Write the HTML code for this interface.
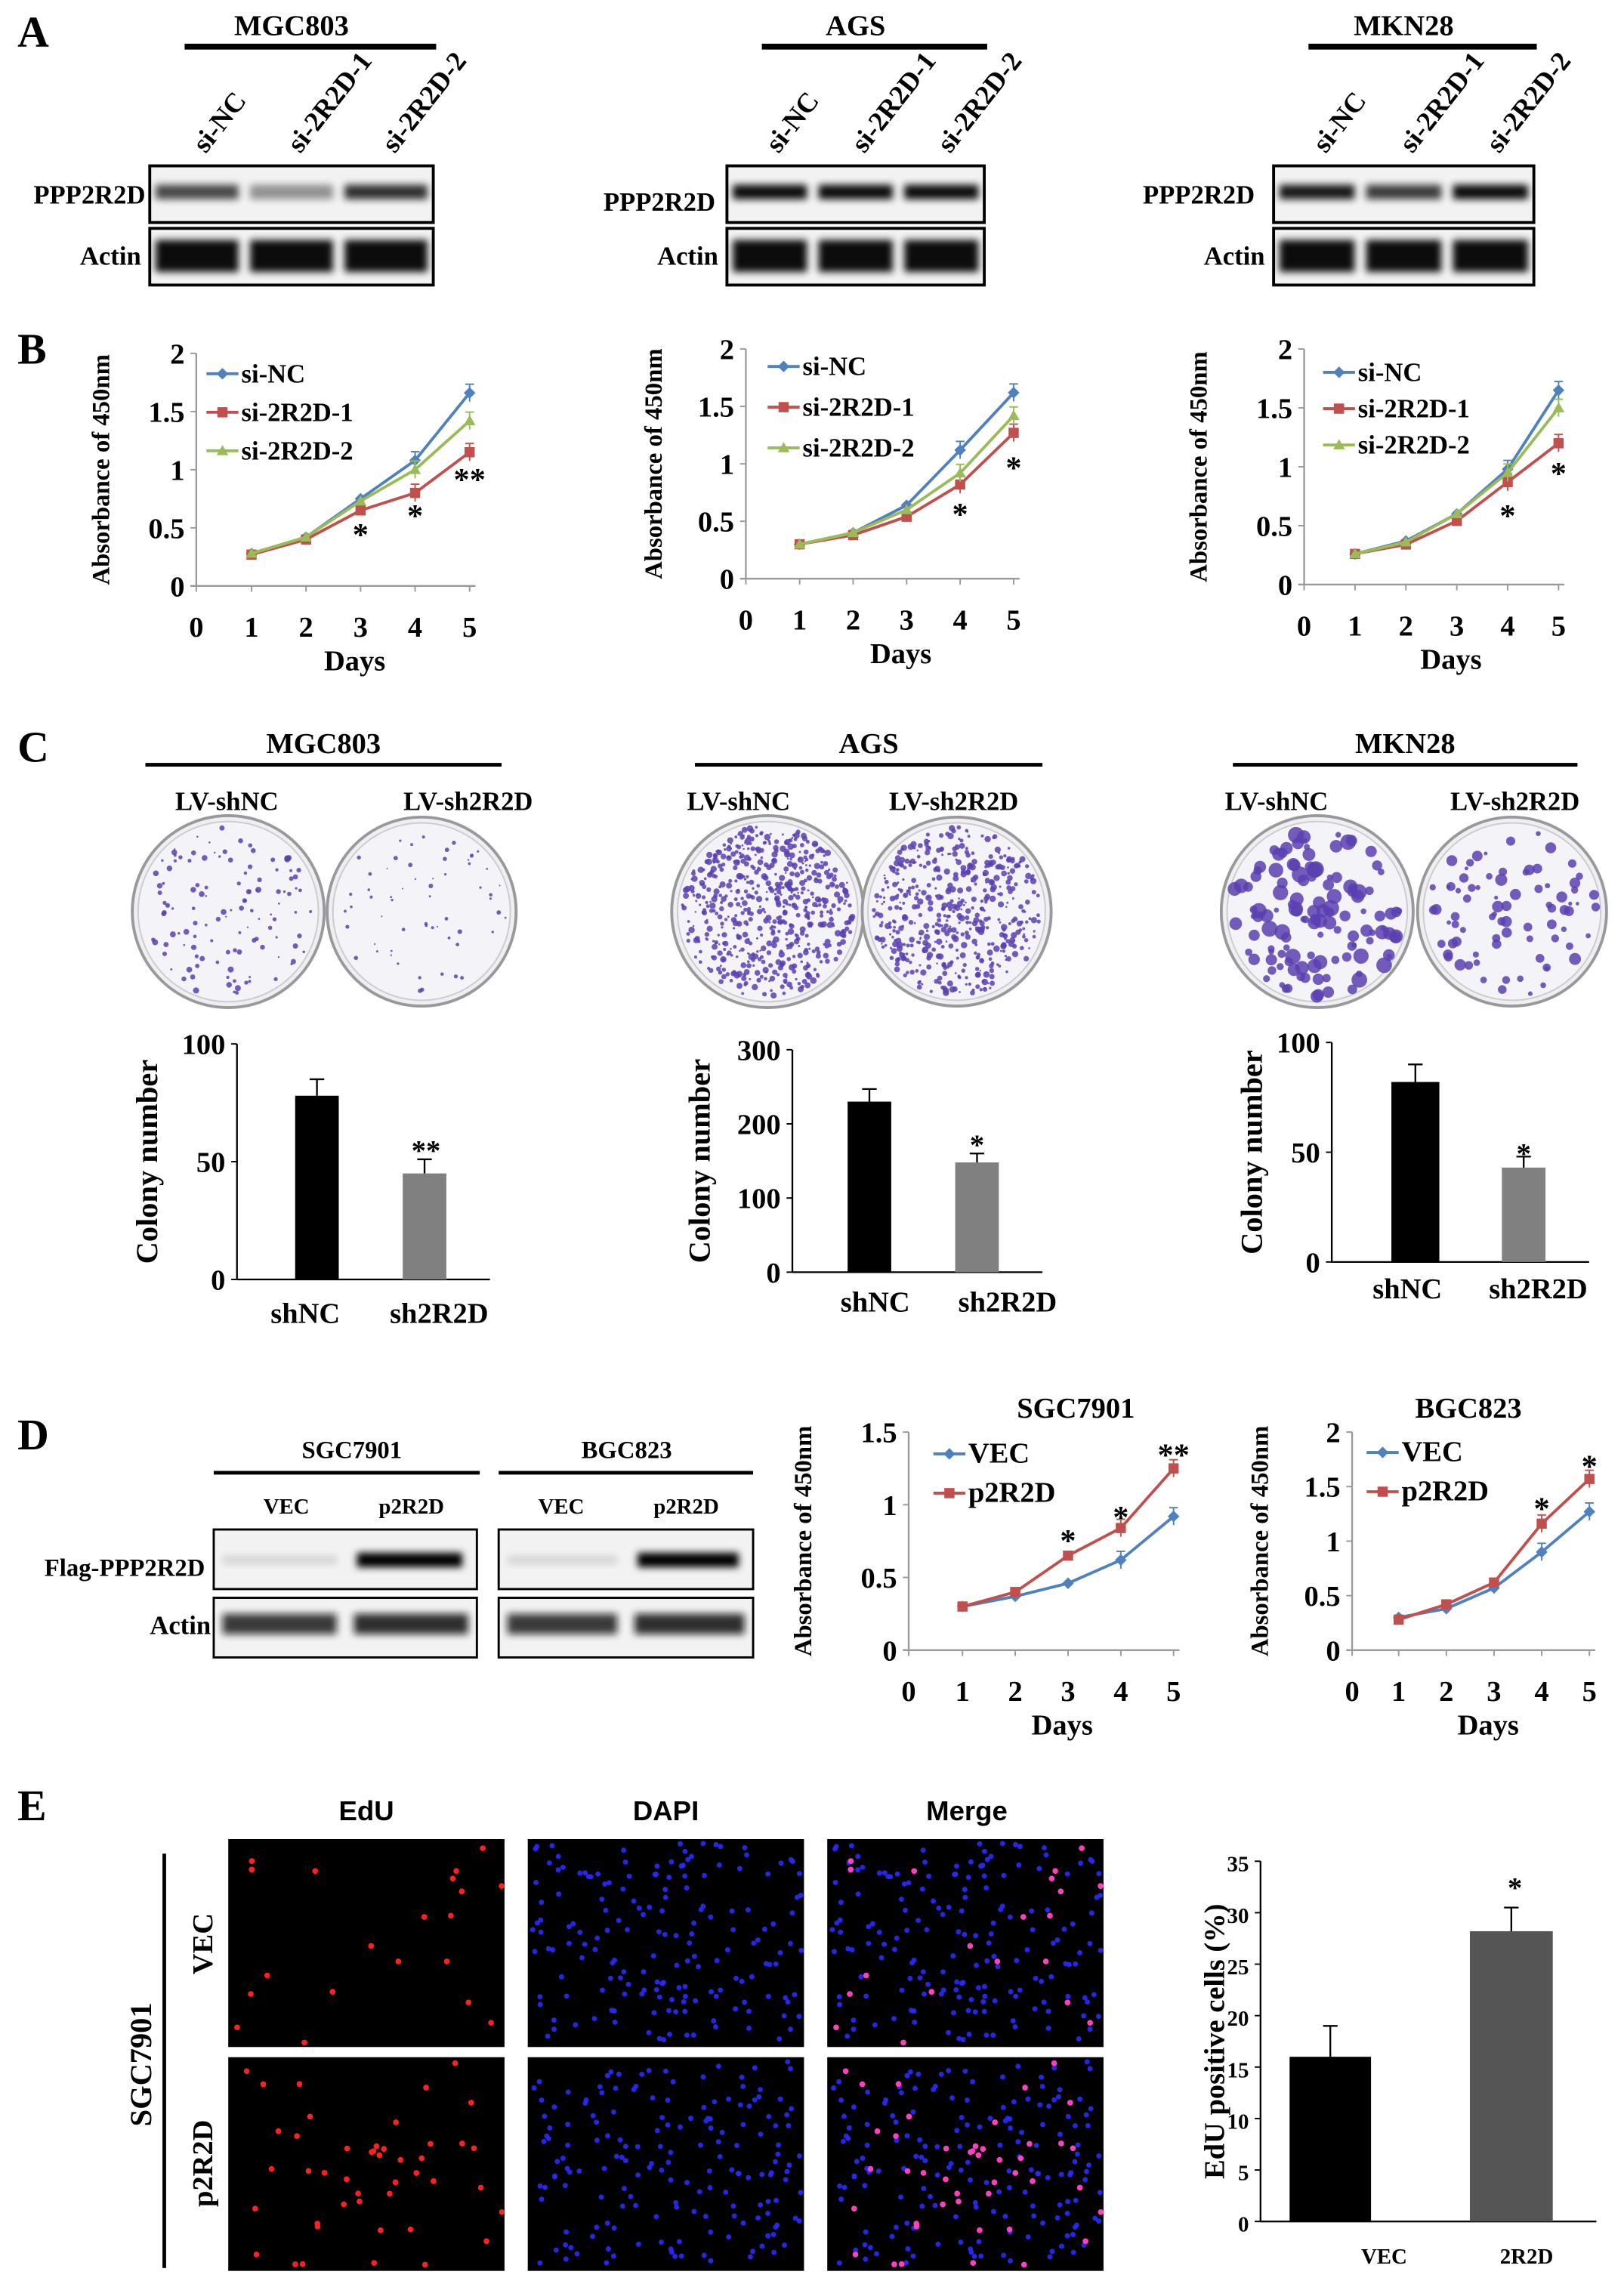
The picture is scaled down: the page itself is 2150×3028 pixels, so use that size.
<!DOCTYPE html>
<html><head><meta charset="utf-8"><style>
html,body{margin:0;padding:0;background:#fff}
svg{display:block}
text{font-family:"Liberation Serif",serif;font-weight:bold;fill:#000}
.s{font-family:"Liberation Sans",sans-serif}
</style></head><body>
<svg id="S" width="2150" height="3028" viewBox="0 0 1117 1573" xmlns="http://www.w3.org/2000/svg">
<defs>
<filter id="bl" x="-20%" y="-50%" width="140%" height="200%"><feGaussianBlur stdDeviation="2.5"/></filter>
</defs>
<g id="G"></g>
</svg>
<script>
var G=document.getElementById('G'),NS='http://www.w3.org/2000/svg';
function el(t,a,txt){var e=document.createElementNS(NS,t);for(var k in a)e.setAttribute(k,a[k]);if(txt!=null)e.textContent=txt;G.appendChild(e);return e;}
function T(x,y,s,size,anchor,extra){var a={x:x,y:y,'font-size':size||16,'text-anchor':anchor||'start'};for(var k in extra)a[k]=extra[k];return el('text',a,s);}
function L(x1,y1,x2,y2,w,c){return el('line',{x1:x1,y1:y1,x2:x2,y2:y2,stroke:c||'#000','stroke-width':w||1});}
var seed=7;function R(){seed=(seed*16807)%2147483647;return seed/2147483647;}

T(12,32,'A',30);T(12,250,'B',30);T(12,524,'C',30);T(12,997,'D',30);T(12,1252,'E',30);

function blotA(x0,x1,title,lab1x,lab1y,act,ints){
 var cx=(x0+x1)/2;T(cx,24,title,20,'middle');L(x0+24,32,x1+2,32,4);
 var w=(x1-x0)/3,labs=['si-NC','si-2R2D-1','si-2R2D-2'];
 for(var i=0;i<3;i++){var lx=x0+w*i+w/2+6,ly=106;T(lx,ly,labs[i],19,'start',{transform:'rotate(-52 '+lx+' '+ly+')'});}
 el('rect',{x:x0,y:114,width:x1-x0,height:39,fill:'#f2f2f2',stroke:'#000','stroke-width':2});
 el('rect',{x:x0,y:157,width:x1-x0,height:39,fill:'#f2f2f2',stroke:'#000','stroke-width':2});
 for(i=0;i<3;i++){var bx=x0+w*i+4;
  el('rect',{x:bx,y:127,width:w-8,height:10,fill:'#000',opacity:ints[i],filter:'url(#bl)'});
  el('rect',{x:bx,y:165,width:w-8,height:22,fill:'#000',opacity:.95,filter:'url(#bl)'});}
 T(lab1x,lab1y,'PPP2R2D',18,'end');T(x0-6,182,'Actin',18,'end');
}
blotA(103,298,'MGC803',100,140,0,[.7,.4,.8]);
blotA(500,677,'AGS',492,145,0,[.95,.95,.95]);
blotA(876,1055,'MKN28',863,140,0,[.9,.75,.95]);

var blue='#4f81bd',red='#c0504d',green='#9bbb59',ax='#999';
function mark(m,x,y,c){
 if(m=='d')el('polygon',{points:x+','+(y-4)+' '+(x+4)+','+y+' '+x+','+(y+4)+' '+(x-4)+','+y,fill:c});
 else if(m=='s')el('rect',{x:x-3.5,y:y-3.5,width:7,height:7,fill:c});
 else el('polygon',{points:x+','+(y-4)+' '+(x+4)+','+(y+3)+' '+(x-4)+','+(y+3),fill:c});
}
function line(axx,y0,ppu,x0,dx,ymax,step,series,stars,leg,legx,legy,legdy,ylabx){
 L(axx,y0,axx,y0-ymax*ppu,1.2,ax);L(axx-4,y0,x0+dx*4+4,y0,1.2,ax);
 for(var v=0;v<=ymax+1e-6;v+=step){var yy=y0-v*ppu;L(axx-4,yy,axx,yy,1,ax);T(axx-8,yy+7,(Math.round(v*10)/10).toString(),20,'end');}
 for(var d=0;d<=5;d++){var xx=d==0?axx:x0+dx*(d-1);L(xx,y0,xx,y0+4,1,ax);T(xx,y0+35,''+d,20,'middle');}
 T(x0+dx*2-4,y0+58,'Days',20,'middle');
 var cy=y0-ymax*ppu/2;T(ylabx,cy,'Absorbance of 450nm',17,'middle',{transform:'rotate(-90 '+ylabx+' '+cy+')'});
 series.forEach(function(s,k){var p=s.d.map(function(v,i){return (x0+dx*i)+','+(y0-v*ppu)}).join(' ');
  el('polyline',{points:p,fill:'none',stroke:s.c,'stroke-width':2});
  s.d.forEach(function(v,i){var x=x0+dx*i,y=y0-v*ppu;mark(s.m,x,y,s.c);
   if(i>=3){L(x,y-6,x,y+6,1,s.c);L(x-3,y-6,x+3,y-6,1,s.c);}});
  var ly=legy+legdy*k;L(legx,ly,legx+22,ly,2,s.c);mark(s.m,legx+11,ly,s.c);
  T(legx+24,ly+6,s.n,leg);
 });
 stars.forEach(function(s){T(x0+dx*(s[0]-1),s[1],s[2],22,'middle');});
}
line(135,403,80,173,37.5,2,.5,[{n:'si-NC',c:blue,m:'d',d:[.28,.42,.75,1.08,1.66]},{n:'si-2R2D-1',c:red,m:'s',d:[.27,.4,.65,.8,1.15]},{n:'si-2R2D-2',c:green,m:'t',d:[.28,.42,.73,1.0,1.42]}],[[3,375,'*'],[4,362,'*'],[5,337,'**']],18,142,257,26.5,75);
line(513,398,79,550,36.8,2,.5,[{n:'si-NC',c:blue,m:'d',d:[.3,.4,.64,1.12,1.62]},{n:'si-2R2D-1',c:red,m:'s',d:[.3,.38,.54,.82,1.27]},{n:'si-2R2D-2',c:green,m:'t',d:[.3,.4,.6,.92,1.42]}],[[4,361,'*'],[5,329,'*']],18,528,252,28,455);
line(897,402,81,932,35,2,.5,[{n:'si-NC',c:blue,m:'d',d:[.26,.37,.6,.98,1.65]},{n:'si-2R2D-1',c:red,m:'s',d:[.26,.34,.54,.87,1.2]},{n:'si-2R2D-2',c:green,m:'t',d:[.26,.36,.6,.95,1.5]}],[[4,362,'*'],[5,333,'*']],18,910,256,25,830);

function plate(cx,cy,r,n,size,col){
 el('circle',{cx:cx,cy:cy,r:r,fill:'#eeeef4',stroke:'#999','stroke-width':2});
 el('circle',{cx:cx,cy:cy,r:r-4,fill:'#f4f3f8',stroke:'#ccc','stroke-width':1});
 for(var i=0;i<n;i++){var a=R()*6.283,rr=Math.sqrt(R())*(r-7);
  el('circle',{cx:cx+Math.cos(a)*rr,cy:cy+Math.sin(a)*rr,r:size*(0.4+R()),fill:col,opacity:.85});}
}
function colonyBlock(x0,x1,title,l1,l2,p1,p2){
 T((x0+x1)/2,518,title,20,'middle');L(x0,526,x1,526,2.5);
 T(l1,557,'LV-shNC',18,'middle');T(l2,557,'LV-sh2R2D',18,'middle');
 plate(p1[0],627,66,p1[1],p1[2],'#5a3fb0');plate(p2[0],627,65,p2[1],p2[2],'#5a3fb0');
}
colonyBlock(100,345,'MGC803',156,322,[157,120,1.5],[290,60,1.2]);
colonyBlock(478,717,'AGS',508,656,[528,600,1.6],[658,500,1.6]);
colonyBlock(848,1085,'MKN28',878,1042,[906,130,4],[1040,80,3]);

function bars(axx,y0,ppu,ymax,step,b,labs,star,labx,laby,ylab,lsz){
 L(axx,y0,axx,y0-ymax*ppu,1.2);L(axx,y0,b[1][0]+b[1][1]+30,y0,1.2);
 for(var v=0;v<=ymax+1e-6;v+=step){var yy=y0-v*ppu;L(axx-4,yy,axx,yy);T(axx-8,yy+7,''+v,lsz||20,'end');}
 b.forEach(function(q,i){var top=y0-q[2]*ppu,e=y0-q[3]*ppu,cx=q[0]+q[1]/2;
  el('rect',{x:q[0],y:top,width:q[1],height:y0-top,fill:q[4]});L(cx,top,cx,e,1.2);L(cx-5,e,cx+5,e,1.2);
  T(labx[i],laby,labs[i],lsz?15:20,'middle');});
 T(star[0],star[1],star[2],20,'middle');
 var cy=y0-ymax*ppu/2;T(ylab[0],cy,ylab[1],ylab[2],'middle',{transform:'rotate(-90 '+ylab[0]+' '+cy+')'});
}
bars(163,880,1.62,100,50,[[203,30,78,85,'#000'],[277,30,45,51,'#808080']],['shNC','sh2R2D'],[293,798,'**'],[210,302],910,[108,'Colony  number',21]);
bars(545,875,.51,300,100,[[583,30,230,247,'#000'],[657,30,148,160,'#808080']],['shNC','sh2R2D'],[672,794,'*'],[602,693],902,[488,'Colony  number',21]);
bars(916,868,1.51,100,50,[[957,33,82,90,'#000'],[1033,30,43,48,'#808080']],['shNC','sh2R2D'],[1048,800,'*'],[968,1058],893,[868,'Colony  number',21]);

T(242,1003,'SGC7901',17,'middle');L(147,1013,330,1013,2.5);
T(431,1003,'BGC823',17,'middle');L(343,1013,518,1013,2.5);
T(197,1041,'VEC',15,'middle');T(283,1041,'p2R2D',15,'middle');T(386,1041,'VEC',15,'middle');T(472,1041,'p2R2D',15,'middle');
[[147,328],[343,518]].forEach(function(b){
 el('rect',{x:b[0],y:1052,width:b[1]-b[0],height:41,fill:'#f2f2f2',stroke:'#000','stroke-width':1.5});
 el('rect',{x:b[0],y:1099,width:b[1]-b[0],height:41,fill:'#f2f2f2',stroke:'#000','stroke-width':1.5});
 var w=(b[1]-b[0])/2;
 el('rect',{x:b[0]+w+8,y:1068,width:w-18,height:10,fill:'#000',filter:'url(#bl)'});
 el('rect',{x:b[0]+6,y:1070,width:w-12,height:6,fill:'#000',opacity:.12,filter:'url(#bl)'});
 el('rect',{x:b[0]+6,y:1110,width:w-12,height:14,fill:'#111',opacity:.8,filter:'url(#bl)'});
 el('rect',{x:b[0]+w+6,y:1110,width:w-12,height:14,fill:'#111',opacity:.85,filter:'url(#bl)'});
});
T(141,1084,'Flag-PPP2R2D',17,'end');T(145,1124,'Actin',18,'end');

line(625,1135,100,662,36.3,1.5,.5,[{n:'VEC',c:blue,m:'d',d:[.3,.37,.46,.62,.92]},{n:'p2R2D',c:red,m:'s',d:[.3,.4,.65,.84,1.25]}],[[3,1067,'*'],[4,1051,'*'],[5,1008,'**']],20,642,1000,27,558);
T(740,975,'SGC7901',20,'middle');
line(930,1135,75,962,32.8,2,.5,[{n:'VEC',c:blue,m:'d',d:[.3,.38,.57,.9,1.27]},{n:'p2R2D',c:red,m:'s',d:[.28,.42,.62,1.16,1.57]}],[[4,1045,'*'],[5,1016,'*']],20,940,999,27,872);
T(1010,975,'BGC823',20,'middle');

T(252,1252,'EdU',19,'middle',{class:'s'});T(458,1252,'DAPI',19,'middle',{class:'s'});T(665,1252,'Merge',19,'middle',{class:'s'});
L(113,1275,113,1560,2.5);
T(104,1420,'SGC7901',21,'middle',{transform:'rotate(-90 104 1420)'});
T(146,1337,'VEC',20,'middle',{transform:'rotate(-90 146 1337)'});
T(146,1488,'p2R2D',20,'middle',{transform:'rotate(-90 146 1488)'});
var cols=[157,363,569],rows=[[1265,143],[1415,147]];
rows.forEach(function(r,ri){
 var red_pts=[];for(var i=0;i<(ri?45:20);i++)red_pts.push([R()*186+3,R()*(r[1]-6)+3]);
 var blue_pts=[];for(i=0;i<170;i++)blue_pts.push([R()*186+3,R()*(r[1]-6)+3]);
 cols.forEach(function(cx,ci){
  el('rect',{x:cx,y:r[0],width:190,height:r[1],fill:'#000'});
  if(ci>0)blue_pts.forEach(function(p){el('circle',{cx:cx+p[0],cy:r[0]+p[1],r:1.8,fill:'#2a2aff',opacity:.9});});
  if(ci!=1)red_pts.forEach(function(p){el('circle',{cx:cx+p[0],cy:r[0]+p[1],r:2,fill:ci==0?'#ff2020':'#ff40c0'});});
 });
});
bars(867,1528,7.08,35,5,[[887,56,16,19,'#000'],[1011,57,28.2,30.5,'#555']],['VEC','2R2D'],[1042,1305,'*'],[952,1050],1557,[842,'EdU positive cells (%)',20],15);
</script>
</body></html>
